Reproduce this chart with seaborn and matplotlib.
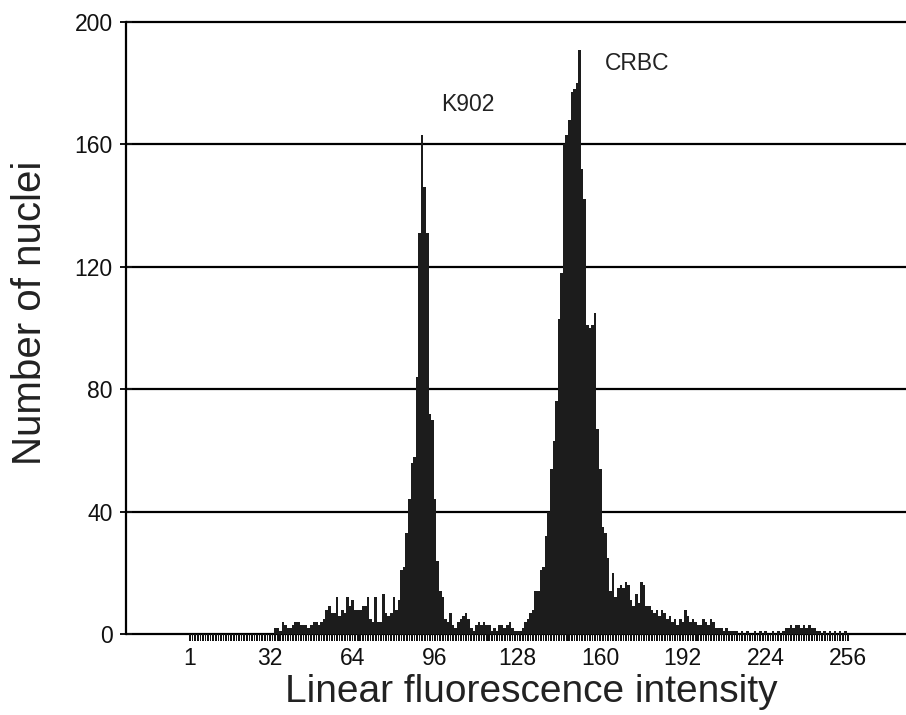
import numpy as np
import pandas as pd
import matplotlib
matplotlib.use("Agg")
import matplotlib.pyplot as plt
import seaborn as sns

# ---- data ----
channels = list(range(1, 257))
counts = (
    [0] * 33
    + [2, 2, 1, 4, 3, 2, 2, 3, 4, 4, 3, 3, 3, 2, 3, 4, 4]                                  # 34-50
    + [3, 4, 5, 8, 9, 7, 7, 12, 6, 8, 7, 12, 9, 11, 8, 8, 8, 9, 9, 12]                     # 51-70
    + [5, 4, 12, 4, 4, 13, 7, 6, 7, 12, 8, 11, 21, 22, 33, 44, 56, 58, 84, 131]            # 71-90
    + [163, 146, 131, 72, 70, 44, 24, 14, 12, 5, 4, 7, 3, 2, 4, 5, 6, 7, 5, 2]             # 91-110
    + [1, 3, 4, 3, 4, 3, 3, 1, 2, 1, 3, 3, 2, 3, 4, 2, 1, 1, 1, 2]                         # 111-130
    + [4, 5, 7, 8, 14, 14, 21, 22, 32, 40, 54, 63, 76, 103, 118, 160, 163, 168, 177, 178]  # 131-150
    + [180, 191, 152, 142, 101, 100, 101, 105, 67, 54, 35, 33, 25, 14, 20, 12, 15, 16, 15, 17]  # 151-170
    + [16, 11, 9, 13, 10, 17, 16, 9, 9, 8, 7, 8, 6, 8, 7, 5, 6, 4, 5, 3]                   # 171-190
    + [5, 4, 8, 6, 4, 5, 4, 3, 3, 5, 4, 3, 5, 4, 2, 2, 2, 1, 2, 1]                         # 191-210
    + [1, 1, 1, 0, 1, 0, 1, 0, 0, 1, 0, 1, 0, 1, 0, 0, 1, 0, 1, 0]                         # 211-230
    + [1, 2, 2, 3, 2, 3, 3, 2, 3, 2, 3, 2, 2, 1, 1, 0, 1, 0, 1, 0]                         # 231-250
    + [1, 0, 1, 0, 1, 0]                                                                   # 251-256
)
x_ticks = [1, 32, 64, 96, 128, 160, 192, 224, 256]
y_ticks = [0, 40, 80, 120, 160, 200]
x_label = "Linear fluorescence intensity"
y_label = "Number of nuclei"
peak_labels = ["K902", "CRBC"]

# ---- style ----
sns.set_theme(style="white")
plt.rcParams["font.family"] = ["Liberation Sans", "DejaVu Sans"]

W, H = 906, 715
fig = plt.figure(figsize=(W / 100, H / 100), dpi=100)
px_per_unit = 3.06
y_top, y_bot = 201, -3
ax_h = (y_top - y_bot) * px_per_unit
ax_bottom_px = 634 + 3 * px_per_unit
ax = fig.add_axes([126 / W, (H - ax_bottom_px) / H, 780 / W, ax_h / H])

ink = "#1c1c1c"
df = pd.DataFrame({"channel": channels, "count": counts})
sns.histplot(data=df, x="channel", weights="count", discrete=True,
             color=ink, alpha=1, linewidth=0, ax=ax, zorder=3)

# channel comb under the zero line
ax.bar(channels, [-2.4] * len(channels), width=0.62, color="#111111",
       linewidth=0, zorder=3)

ax.set_xlim(-23.8, 278.5)
ax.set_ylim(y_bot, y_top)
ax.set_xticks(x_ticks)
ax.set_yticks(y_ticks)

ax.yaxis.grid(True, color="black", linewidth=1.6, zorder=1)
ax.xaxis.grid(False)
ax.set_axisbelow(True)

for s in ["top", "right", "bottom"]:
    ax.spines[s].set_visible(False)
ax.spines["left"].set_bounds(0, 200)
ax.spines["left"].set_color("black")
ax.spines["left"].set_linewidth(1.6)

ax.tick_params(axis="y", direction="inout", length=9, width=1.4,
               colors="#111111", labelsize=16.5, pad=5, left=True)
ax.tick_params(axis="x", length=0, labelsize=16.5, pad=3, colors="#111111")

ax.set_xlabel(x_label, fontsize=28, color="#222222")
ax.set_ylabel(y_label, fontsize=29, color="#222222")
ax.xaxis.set_label_coords(0.52, -0.049)
ax.yaxis.set_label_coords(-0.099, 0.53)

ax.text(108.7, 172.9, peak_labels[0], ha="center", va="center",
        fontsize=16.5, color="#222222")
ax.text(174.2, 186.6, peak_labels[1], ha="center", va="center",
        fontsize=16.5, color="#222222")

fig.savefig("out.png", dpi=100, facecolor="white")
